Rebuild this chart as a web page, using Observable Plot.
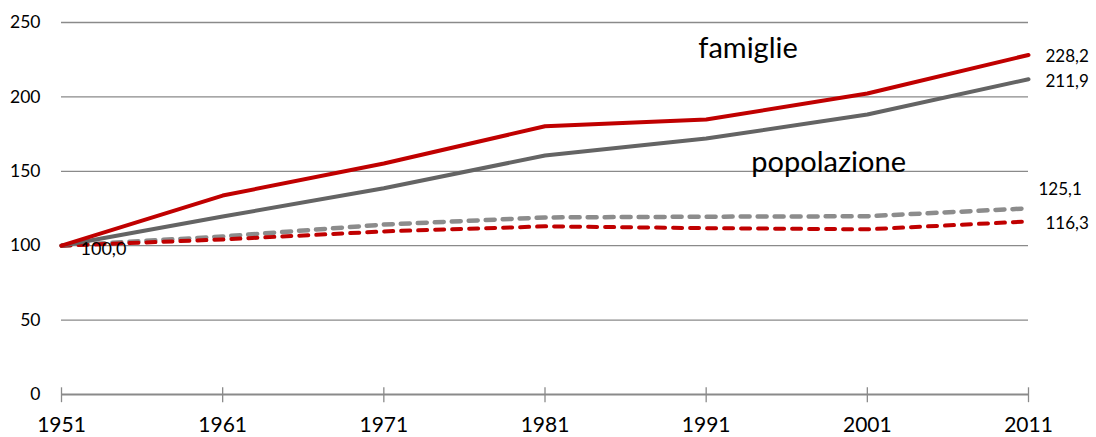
<!DOCTYPE html>
<html><head><meta charset="utf-8">
<script src="https://cdn.jsdelivr.net/npm/d3@7"></script>
<script src="https://cdn.jsdelivr.net/npm/@observablehq/plot@0.6"></script>
<style>body{margin:0;background:#fff;font-family:Lato,"Open Sans",sans-serif}</style>
</head><body><div id="chart"></div>
<script>
const years = [1951, 1961, 1971, 1981, 1991, 2001, 2011];
const famiglieRed = [100, 133.7, 155.2, 180.3, 184.8, 202.3, 228.2];
const famiglieGray = [100, 119.6, 138.6, 160.6, 172.0, 188.2, 211.9];
const popolazioneGray = [100, 106.2, 114.2, 119.0, 119.5, 119.8, 125.1];
const popolazioneRed = [100, 104.2, 109.6, 113.0, 111.8, 111.0, 116.3];
const yTicks = [0, 50, 100, 150, 200, 250];
const startLabel = [{x: 1951, y: 100, text: "100,0"}];
const endLabels = [
  {x: 2011, y: 228.2, text: "228,2"},
  {x: 2011, y: 211.9, text: "211,9"},
  {x: 2011, y: 116.3, text: "116,3"}
];
const endLabelShifted = [{x: 2011, y: 125.1, text: "125,1"}];
const seriesLabels = [
  {x: 1993.6, y: 232.5, text: "famiglie"},
  {x: 1998.6, y: 155.5, text: "popolazione"}
];

const mk = (vals, key) => years.map((yr, i) => ({year: yr, value: vals[i], key}));

const chart = Plot.plot({
  width: 1096, height: 437,
  marginLeft: 61, marginRight: 68, marginTop: 22, marginBottom: 43,
  style: {fontFamily: "Lato, sans-serif", background: "#fff"},
  x: {domain: [1951, 2011], ticks: years, tickFormat: d => String(d), label: null},
  y: {domain: [0, 250], ticks: yTicks, label: null},
  marks: [
    Plot.ruleY(yTicks.filter(d => d > 0), {stroke: "#8a8a8a", strokeWidth: 1.3}),
    Plot.ruleY([0], {stroke: "#8a8a8a", strokeWidth: 1.8}),
    Plot.ruleX(years, {x: d => d, y1: -5.5, y2: 4.5, stroke: "#8a8a8a", strokeWidth: 1.3}),
    Plot.axisX({ticks: years, tickFormat: d => String(d), tickSize: 0, tickPadding: 23, fontSize: 21, fill: "#000"}),
    Plot.axisY({ticks: yTicks, tickSize: 0, tickPadding: 21, fontSize: 17.5, fill: "#000"}),
    Plot.line(mk(popolazioneGray, "pg"), {x: "year", y: "value", stroke: "#8c8c8c", strokeWidth: 4.5, strokeDasharray: "9,8", strokeLinecap: "round"}),
    Plot.line(mk(popolazioneRed, "pr"), {x: "year", y: "value", stroke: "#c00000", strokeWidth: 4, strokeDasharray: "9,8", strokeLinecap: "round"}),
    Plot.line(mk(famiglieGray, "fg"), {x: "year", y: "value", stroke: "#646464", strokeWidth: 4}),
    Plot.line(mk(famiglieRed, "fr"), {x: "year", y: "value", stroke: "#c00000", strokeWidth: 4}),
    Plot.text(startLabel, {x: "x", y: "y", text: "text", dx: 19, dy: 4, textAnchor: "start", fontSize: 18, fill: "#000"}),
    Plot.text(endLabels, {x: "x", y: "y", text: "text", dx: 17, dy: 2, textAnchor: "start", fontSize: 17, fill: "#000"}),
    Plot.text(endLabelShifted, {x: "x", y: "y", text: "text", dx: 10, dy: -19, textAnchor: "start", fontSize: 17, fill: "#000"}),
    Plot.text(seriesLabels, {x: "x", y: "y", text: "text", fontSize: 29, fill: "#000"})
  ]
});
document.getElementById("chart").appendChild(chart);
</script></body></html>
